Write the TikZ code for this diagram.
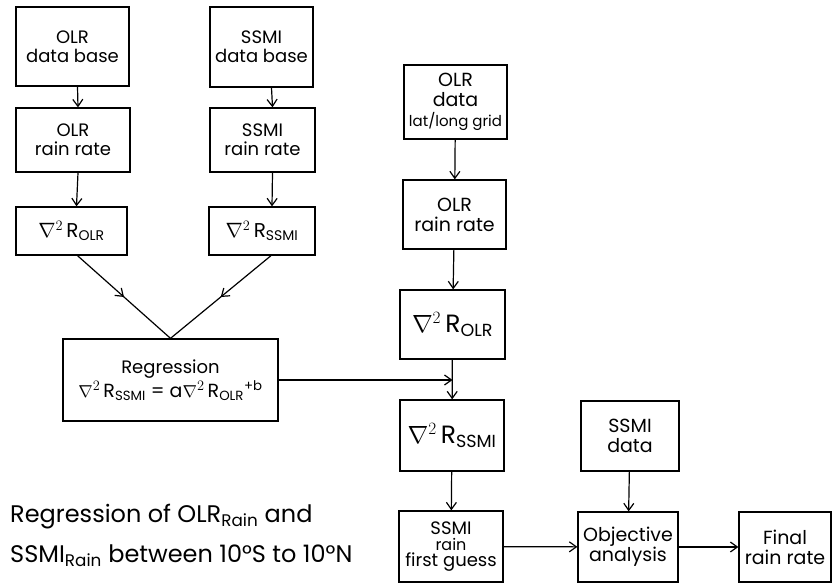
\documentclass[tikz,border=0pt]{standalone}
\usepackage{fontspec}
\setmainfont{Poppins}
\usetikzlibrary{
    arrows.meta,
    positioning,
    calc,
    decorations.markings,
}

\newcommand{\lapl}[1]{$\nabla^{2}$\,R\textsubscript{#1}}

\begin{document}
\begin{tikzpicture}[
    x=1pt, y=-1pt,
    >={Straight Barb[length=7pt,width=10pt]},
    box/.style={draw, line width=1.3pt, align=center, inner sep=1pt, text=black, font=\fontsize{18}{19}\selectfont},
    bigbox/.style={box, font=\fontsize{19}{20}\selectfont},
    flow/.style={->, line width=1.2pt},
    midflow/.style={line width=1.2pt, postaction={decorate},
        decoration={markings, mark=at position 0.5 with {\arrow{>}}}},
    ]

\useasboundingbox (0,0) rectangle (832,583);

% left branch: OLR
\node[box, minimum width=113pt, minimum height=79pt] at (72.5,46.5) (olrbase)
    {OLR\\data base};
\node[box, minimum width=114pt, minimum height=64pt] at (73,140) (olrrain)
    {OLR\\rain rate};
\node[box, minimum width=111pt, minimum height=48pt, font=\fontsize{20}{21}\selectfont] at (71.5,231) (lapolr)
    {\lapl{OLR}};

% left branch: SSMI
\node[box, minimum width=103pt, minimum height=80pt] at (261.5,47) (ssmibase)
    {SSMI\\data base};
\node[box, minimum width=105pt, minimum height=64pt] at (262.5,140) (ssmirain)
    {SSMI\\rain rate};
\node[box, minimum width=106pt, minimum height=48pt, font=\fontsize{20}{21}\selectfont] at (262,231) (lapssmi)
    {\lapl{SSMI}};

\node[box, minimum width=215pt, minimum height=82pt, font=\fontsize{18}{24}\selectfont] at (170.5,380) (regr)
    {Regression\\{\fontsize{19}{20}\selectfont\lapl{SSMI} = a\lapl{OLR}\textsuperscript{+b}}};

\draw[flow] ([xshift=5]olrbase.south) -- ([xshift=5]olrrain.north);
\draw[flow] ([xshift=5]olrrain.south) -- ([xshift=5]lapolr.north);
\draw[flow] ([xshift=10]ssmibase.south) -- ([xshift=10]ssmirain.north);
\draw[flow] ([xshift=10]ssmirain.south) -- ([xshift=10]lapssmi.north);
\draw[midflow] ([xshift=6]lapolr.south) -- (regr.north);
\draw[midflow] ([xshift=9]lapssmi.south) -- (regr.north);

% right branch
\node[bigbox, minimum width=103pt, minimum height=74pt] at (455.5,102) (olrgrid)
    {OLR\\data\\{\fontsize{15}{16}\selectfont lat/long grid}};
\node[bigbox, minimum width=103pt, minimum height=69pt] at (454.5,214.5) (olrrain2)
    {OLR\\rain rate};
\node[bigbox, minimum width=105pt, minimum height=69pt, font=\fontsize{25}{26}\selectfont] at (452.5,324.5) (lapolr2)
    {\lapl{OLR}};
\node[bigbox, minimum width=104pt, minimum height=71pt, font=\fontsize{25}{26}\selectfont] at (452,435.5) (lapssmi2)
    {\lapl{SSMI}};
\node[bigbox, minimum width=104pt, minimum height=71pt, font=\fontsize{18}{16}\selectfont] at (451,546.5) (guess)
    {SSMI\\{\fontsize{16}{16}\selectfont rain}\\first guess};
\node[bigbox, minimum width=98pt, minimum height=70pt] at (630,436) (ssmidata)
    {SSMI\\data};
\node[bigbox, minimum width=100pt, minimum height=70pt] at (628,547) (objan)
    {Objective\\analysis};
\node[bigbox, minimum width=92pt, minimum height=70pt] at (785,547) (final)
    {Final\\rain rate};

\coordinate (join) at (lapolr2.south |- regr.east);

\draw[flow] (olrgrid) -- (olrrain2);
\draw[flow] (olrrain2) -- (lapolr2);
\draw[flow] (lapolr2) -- (lapssmi2);
\draw[flow] (regr.east) -- (join);
\draw[flow] (lapssmi2) -- (guess);
\draw[flow] (guess) -- (objan);
\draw[flow] (ssmidata) -- (objan);
\draw[flow] (objan) -- (final);

\node[anchor=north west, align=left, inner sep=0pt, font=\fontsize{24}{40}\selectfont] at (10,504) (caption)
    {Regression of OLR\textsubscript{Rain} and\\SSMI\textsubscript{Rain} between 10°S to 10°N};

\end{tikzpicture}
\end{document}
